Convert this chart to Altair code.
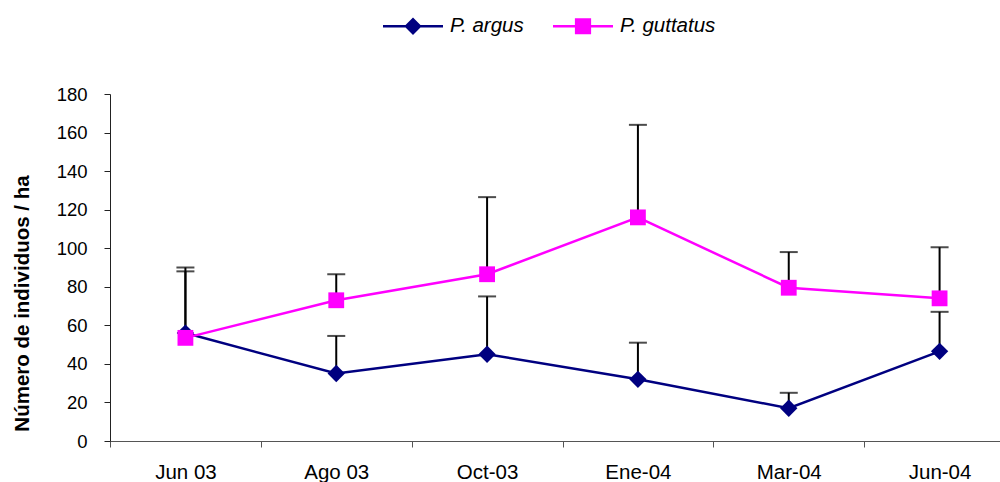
import altair as alt
import pandas as pd

months = ["Jun 03", "Ago 03", "Oct-03", "Ene-04", "Mar-04", "Jun-04"]
series_names = ["P. argus", "P. guttatus"]
argus_mean = [56, 35, 45, 32, 17, 46.5]
argus_upper = [90, 54.5, 75, 51, 25, 67]
guttatus_mean = [53.5, 73, 86.5, 116, 79.5, 74]
guttatus_upper = [88, 86.5, 126.5, 164, 98, 100.5]
y_ticks = [0, 20, 40, 60, 80, 100, 120, 140, 160, 180]
colors = ["#000080", "#FF00FF"]
shapes = ["diamond", "square"]

rows = []
for s, means, ups in [(series_names[0], argus_mean, argus_upper),
                      (series_names[1], guttatus_mean, guttatus_upper)]:
    for m, v, u in zip(months, means, ups):
        rows.append({"series": s, "month": m, "mean": v, "upper": u})
df = pd.DataFrame(rows)

FONT = "Liberation Sans"

x_axis = alt.Axis(title=None, tickBand="extent", labelAngle=0,
                  labelFontSize=20.5, labelPadding=15, tickSize=6,
                  labelColor="#000", domainColor="#555",
                  tickColor="#555", labelFont=FONT)
x_enc = alt.X("month:N", sort=months,
              scale=alt.Scale(type="band", domain=months, range=[0, 905],
                              paddingInner=0, paddingOuter=0),
              axis=x_axis)
y_axis = alt.Axis(title="Número de individuos / ha", values=y_ticks,
                  grid=False, tickSize=6, labelPadding=17, labelOverlap=False,
                  labelFontSize=18.5, labelColor="#000", labelFont=FONT,
                  domainColor="#222", tickColor="#222",
                  titleFont=FONT, titleFontSize=20.5, titleFontWeight="bold",
                  titleColor="#000", titleX=-88, titleY=209,
                  titleAngle=270, titleBaseline="middle", titleAlign="center")
y_scale = alt.Scale(domain=[0, 180], nice=False, zero=True)
y_enc = alt.Y("mean:Q", scale=y_scale, axis=y_axis)
y_up = alt.Y("upper:Q", scale=y_scale, axis=y_axis)

color_nolegend = alt.Color("series:N", scale=alt.Scale(domain=series_names, range=colors),
                           legend=None)

base = alt.Chart(df)

err_rule = base.mark_rule(color="black", strokeWidth=2).encode(
    x=x_enc, y=y_enc, y2="upper:Q", detail="series:N")
err_cap = base.mark_tick(color="black", thickness=2, size=18).encode(
    x=x_enc, y=y_up, detail="series:N")

lines = base.mark_line(strokeWidth=2.5).encode(
    x=x_enc, y=y_enc, color=color_nolegend)

points = base.mark_point(filled=True, opacity=1, strokeWidth=0).encode(
    x=x_enc, y=y_enc,
    color=color_nolegend,
    shape=alt.Shape("series:N", scale=alt.Scale(domain=series_names, range=shapes),
                    legend=None),
    size=alt.Size("series:N", scale=alt.Scale(domain=series_names, range=[300, 250]),
                  legend=None))

argus_path = ("M-1,-0.04 L1,-0.04 L1,0.04 L-1,0.04 Z "
              "M0,-0.29 L0.29,0 L0,0.29 L-0.29,0 Z")
gutt_path = ("M-1,-0.04 L1,-0.04 L1,0.04 L-1,0.04 Z "
             "M-0.27,-0.27 L0.27,-0.27 L0.27,0.27 L-0.27,0.27 Z")

legend = alt.Legend(
    title=None, orient="none", direction="horizontal", legendX=273, legendY=-98,
    labelFont=FONT, labelFontSize=20.5, labelFontStyle="italic", labelColor="#000",
    symbolSize=3600, labelOffset=7, columnPadding=29, padding=0,
    symbolStrokeWidth=0, symbolOpacity=1, labelLimit=300)

legend_layer = base.mark_point(filled=True, strokeWidth=0, size=3600).encode(
    color=alt.Color("series:N", scale=alt.Scale(domain=series_names, range=colors),
                    legend=legend),
    shape=alt.Shape("series:N", scale=alt.Scale(domain=series_names,
                                                range=[argus_path, gutt_path]),
                    legend=legend),
).transform_filter("false")

chart = alt.layer(err_rule, err_cap, lines, points, legend_layer).resolve_scale(
    color="independent", shape="independent"
).properties(
    width=890, height=347,
    autosize=alt.AutoSizeParams(type="none"),
    padding={"left": 110, "top": 94, "right": 0, "bottom": 41},
).configure(background="white").configure_view(stroke=None)

chart.save("out.html", embed_options={"renderer": "svg", "actions": False})
